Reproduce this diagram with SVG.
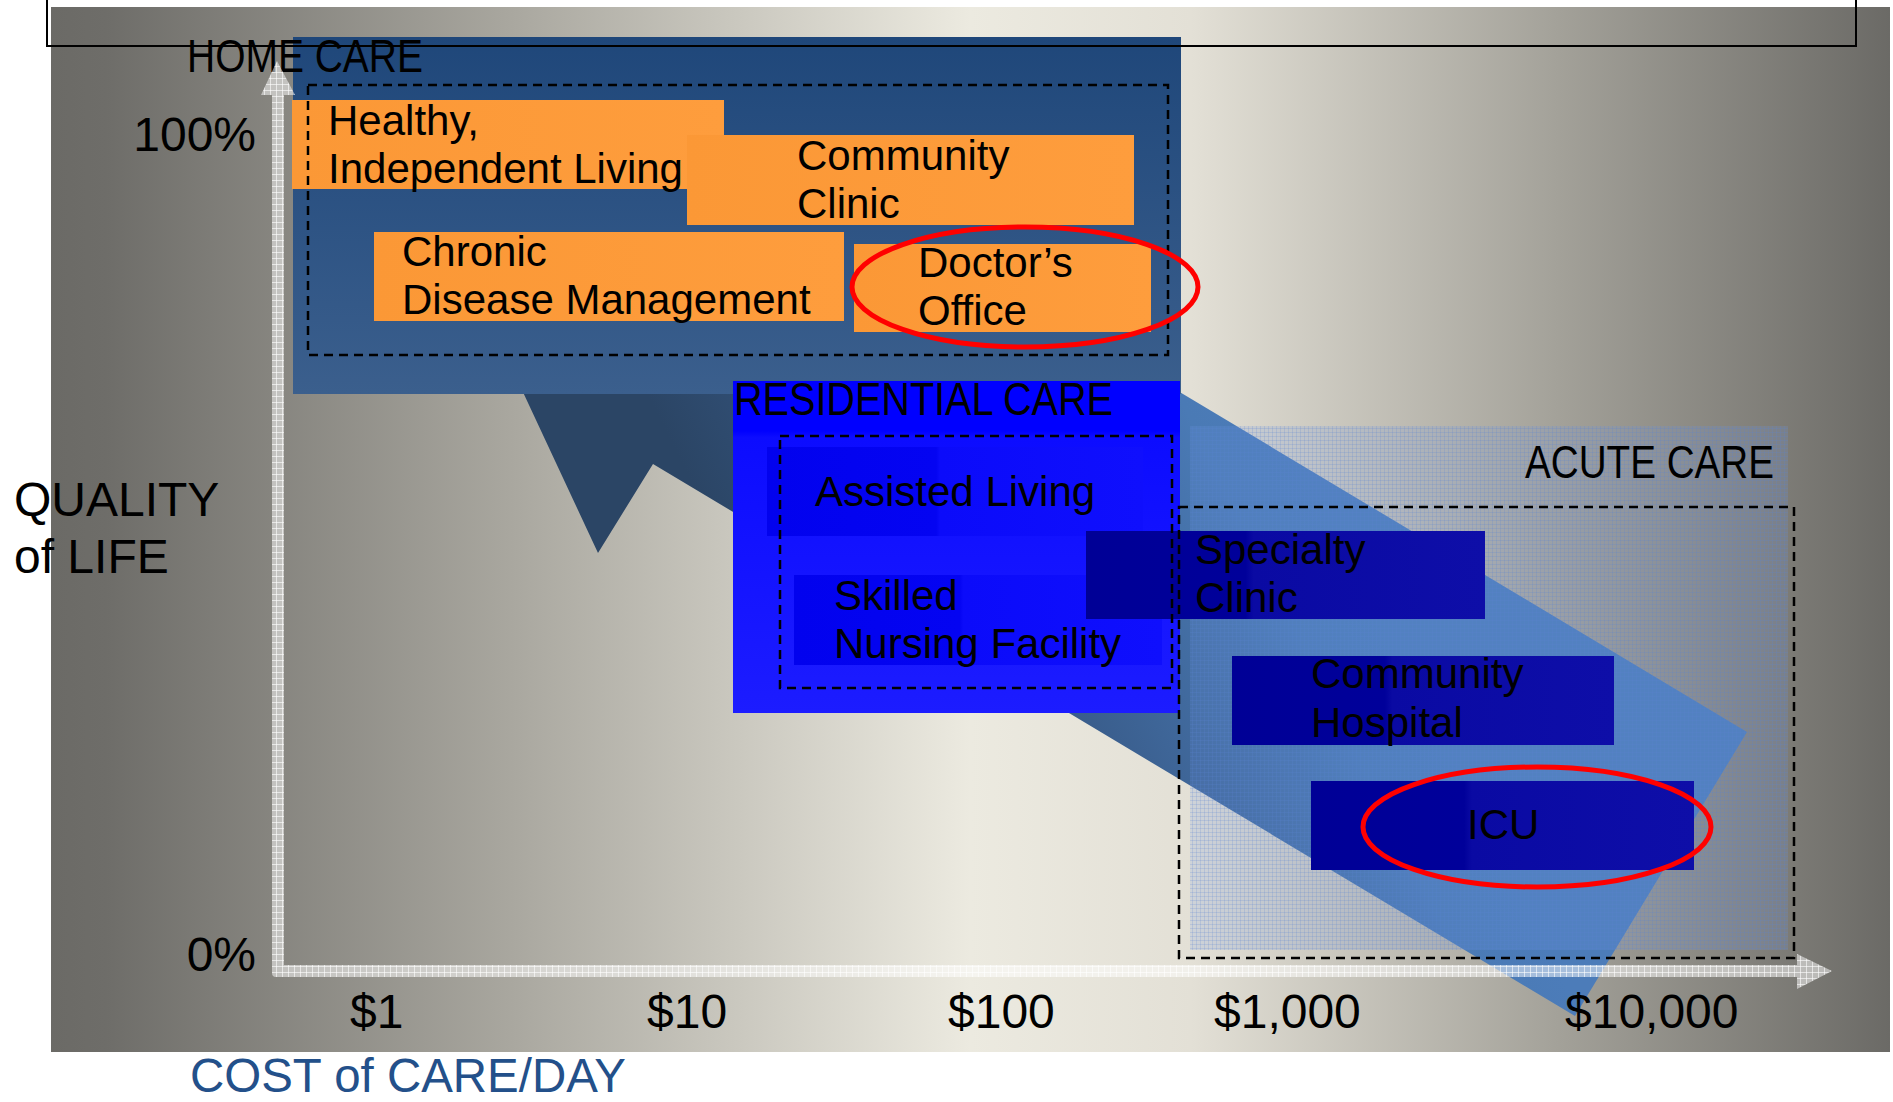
<svg xmlns="http://www.w3.org/2000/svg" width="1893" height="1102" viewBox="0 0 1893 1102">
<defs>
<linearGradient id="bg" x1="0" y1="0" x2="1" y2="0">
<stop offset="0" stop-color="#6b6a66"/>
<stop offset="0.03" stop-color="#6e6d69"/>
<stop offset="0.25" stop-color="#a9a79f"/>
<stop offset="0.5" stop-color="#eceae0"/>
<stop offset="0.62" stop-color="#e3e0d6"/>
<stop offset="0.82" stop-color="#a3a199"/>
<stop offset="1" stop-color="#6b6a66"/>
</linearGradient>
<linearGradient id="band" gradientUnits="userSpaceOnUse" x1="800" y1="700" x2="1300" y2="450">
<stop offset="0" stop-color="#2b4565"/>
<stop offset="0.45" stop-color="#3a5e8d"/>
<stop offset="0.85" stop-color="#4a7ab5"/>
<stop offset="1" stop-color="#4c7cb9"/>
</linearGradient>
<linearGradient id="home" x1="0" y1="0" x2="0" y2="1">
<stop offset="0" stop-color="#1f477a"/>
<stop offset="1" stop-color="#3b5f8d"/>
</linearGradient>
<linearGradient id="resi" x1="0" y1="0" x2="0" y2="1">
<stop offset="0" stop-color="#0000ff"/>
<stop offset="0.15" stop-color="#0000ff"/>
<stop offset="0.17" stop-color="#0c0cff"/>
<stop offset="1" stop-color="#1c1cff"/>
</linearGradient>
<linearGradient id="subblue" x1="0" y1="0" x2="1" y2="0">
<stop offset="0" stop-color="#0202ee"/>
<stop offset="0.45" stop-color="#0404f2"/>
<stop offset="0.46" stop-color="#0b0bfa"/>
<stop offset="1" stop-color="#0f0ffd"/>
</linearGradient>
<linearGradient id="dark" x1="0" y1="0" x2="1" y2="0">
<stop offset="0" stop-color="#000096"/>
<stop offset="0.4" stop-color="#00009a"/>
<stop offset="0.42" stop-color="#0a0aa3"/>
<stop offset="1" stop-color="#0e0ea8"/>
</linearGradient>
<linearGradient id="orange" x1="0" y1="0" x2="1" y2="0">
<stop offset="0" stop-color="#fb9836"/>
<stop offset="1" stop-color="#fe9d3d"/>
</linearGradient>
<pattern id="acuteTex" width="4" height="4" patternUnits="userSpaceOnUse">
<rect width="4" height="4" fill="#6e98e6" fill-opacity="0.18"/>
<path d="M0 0.5H4M0.5 0V4" stroke="#5a82d2" stroke-opacity="0.2" stroke-width="1"/>
</pattern>
<pattern id="axTex" width="6" height="6" patternUnits="userSpaceOnUse">
<rect width="6" height="6" fill="#ffffff" fill-opacity="0.5"/>
<path d="M0 0.5H6M0.5 0V6" stroke="#ffffff" stroke-opacity="0.6" stroke-width="1"/>
</pattern>
</defs>
<style>
.lbl{font-family:"Liberation Sans",Arial,sans-serif;font-size:42px;fill:#000}
.ax{font-family:"Liberation Sans",Arial,sans-serif;font-size:48px;fill:#000}
.hdr{font-family:"Liberation Sans",Arial,sans-serif;font-size:46px;fill:#000}
.dash{fill:none;stroke:#000;stroke-width:2.5;stroke-dasharray:9 6}
.ring{fill:none;stroke:#ff0000;stroke-width:5}
.obox{fill:url(#orange)}
.dbox{fill:url(#dark)}
.bbox{fill:url(#subblue)}
</style>
<rect x="0" y="0" width="1893" height="1102" fill="#ffffff"/>
<rect x="51" y="7" width="1839" height="1045" fill="url(#bg)"/>

<g id="connectors">
<polygon id="care-arrow" points="480,300 598,553 653,464 1575,1016 1747,732 1183,394 900,224" fill="url(#band)"/>
</g>

<g id="home-care">
<rect x="293" y="37" width="888" height="357" fill="url(#home)"/>
</g>

<g id="acute-care">
<rect x="1190" y="426" width="598" height="524" fill="url(#acuteTex)"/>
</g>

<g id="residential-care">
<rect x="733" y="381" width="447" height="332" fill="url(#resi)"/>
</g>

<g id="healthy-living">
<rect class="obox" x="292" y="100" width="432" height="89"/>
</g>
<g id="community-clinic">
<rect class="obox" x="687" y="135" width="447" height="90"/>
</g>
<g id="chronic-disease">
<rect class="obox" x="374" y="232" width="470" height="89"/>
</g>
<g id="doctors-office">
<rect class="obox" x="854" y="244" width="297" height="88"/>
</g>
<g id="assisted-living">
<rect class="bbox" x="767" y="447" width="376" height="89"/>
</g>
<g id="skilled-nursing">
<rect class="bbox" x="794" y="575" width="368" height="90"/>
</g>
<g id="specialty-clinic">
<rect class="dbox" x="1086" y="531" width="399" height="88"/>
</g>
<g id="community-hospital">
<rect class="dbox" x="1232" y="656" width="382" height="89"/>
</g>
<g id="icu">
<rect class="dbox" x="1311" y="781" width="383" height="89"/>
</g>

<g id="dashed-groups">
<rect class="dash" x="308" y="85" width="860" height="270"/>
<rect class="dash" x="780" y="436" width="392" height="252"/>
<rect class="dash" x="1179" y="507" width="615" height="451"/>
</g>

<g id="labels">
<text class="hdr" x="187" y="72" textLength="236" lengthAdjust="spacingAndGlyphs">HOME CARE</text>
<text class="hdr" x="734" y="415" textLength="379" lengthAdjust="spacingAndGlyphs">RESIDENTIAL CARE</text>
<text class="hdr" x="1525" y="478" textLength="249" lengthAdjust="spacingAndGlyphs">ACUTE CARE</text>
<text class="lbl" x="328" y="135">Healthy,</text>
<text class="lbl" x="328" y="183">Independent Living</text>
<text class="lbl" x="797" y="170">Community</text>
<text class="lbl" x="797" y="218">Clinic</text>
<text class="lbl" x="402" y="266">Chronic</text>
<text class="lbl" x="402" y="314">Disease Management</text>
<text class="lbl" x="918" y="277">Doctor’s</text>
<text class="lbl" x="918" y="325">Office</text>
<text class="lbl" x="815" y="506">Assisted Living</text>
<text class="lbl" x="834" y="610">Skilled</text>
<text class="lbl" x="834" y="658">Nursing Facility</text>
<text class="lbl" x="1195" y="564">Specialty</text>
<text class="lbl" x="1195" y="612">Clinic</text>
<text class="lbl" x="1311" y="688">Community</text>
<text class="lbl" x="1311" y="737">Hospital</text>
<text class="lbl" x="1467" y="839">ICU</text>
</g>

<g id="axes">
<path d="M272,95 L261,95 L277,61 L295,95 L284,95 L284,965 L1797,965 L1797,954 L1832,971 L1797,989 L1797,977 L276,977 Q272,977 272,973 Z" fill="url(#axTex)"/>
<text class="ax" x="256" y="151" text-anchor="end">100%</text>
<text class="ax" x="256" y="971" text-anchor="end">0%</text>
<text class="ax" x="14" y="516">QUALITY</text>
<text class="ax" x="14" y="573">of LIFE</text>
<text class="ax" x="350" y="1028">$1</text>
<text class="ax" x="647" y="1028">$10</text>
<text class="ax" x="948" y="1028">$100</text>
<text class="ax" x="1214" y="1028">$1,000</text>
<text class="ax" x="1565" y="1028">$10,000</text>
<text class="ax" x="190" y="1092" textLength="436" lengthAdjust="spacingAndGlyphs" style="fill:#23508a">COST of CARE/DAY</text>
</g>

<g id="highlights">
<ellipse class="ring" cx="1025" cy="287" rx="173" ry="60"/>
<ellipse class="ring" cx="1537" cy="827" rx="174" ry="60"/>
</g>

<rect x="47" y="-10" width="1809" height="56" fill="none" stroke="#000" stroke-width="2"/>
</svg>
